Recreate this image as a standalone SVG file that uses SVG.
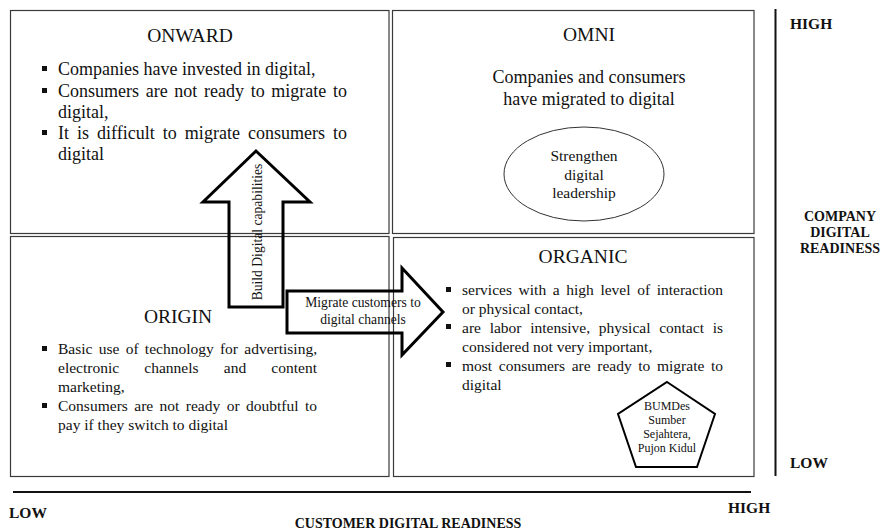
<svg xmlns="http://www.w3.org/2000/svg" width="881" height="530" viewBox="0 0 881 530">
  <style>
    .box { fill: #ffffff; stroke: #3a3a3a; stroke-width: 1.2; }
    .t { font-family: "Liberation Serif", "Times New Roman", serif; fill: #111; }
    .title { font-size: 19.5px; text-anchor: middle; }
    .body { font-size: 18px; }
    .small { font-size: 15.5px; }
    .axis { font-family: "Liberation Serif", "Times New Roman", serif; font-weight: bold; fill: #111; }
    .end { font-size: 15.5px; }
    .name { font-size: 14px; text-anchor: middle; }
    .bul { fill: #111; }
    .arrow { fill: none; stroke: #000; stroke-width: 3; stroke-linejoin: miter; }
    .lbl { font-family: "Liberation Serif", "Times New Roman", serif; font-size: 13.6px; fill: #111; text-anchor: middle; }
    .axisline { stroke: #111; stroke-width: 2; }
  </style>

  <!-- Quadrant: ONWARD -->
  <g id="onward">
    <rect class="box" x="10.5" y="10.5" width="378.5" height="223"/>
    <text class="t title" x="190" y="42">ONWARD</text>
    <rect class="bul" x="42" y="66" width="5" height="5"/>
    <text class="t body" x="58" y="75">Companies have invested in digital,</text>
    <rect class="bul" x="42" y="88" width="5" height="5"/>
    <text class="t body" x="58" y="97" word-spacing="2.2" textLength="289" lengthAdjust="spacing">Consumers are not ready to migrate to</text>
    <text class="t body" x="58" y="118">digital,</text>
    <rect class="bul" x="42" y="130" width="5" height="5"/>
    <text class="t body" x="58" y="139" word-spacing="3.5" textLength="289" lengthAdjust="spacing">It is difficult to migrate consumers to</text>
    <text class="t body" x="58" y="160">digital</text>
  </g>

  <!-- Quadrant: OMNI -->
  <g id="omni">
    <rect class="box" x="392.5" y="10.5" width="361.5" height="223"/>
    <text class="t title" x="589" y="41">OMNI</text>
    <text class="t body" x="589" y="83" text-anchor="middle">Companies and consumers</text>
    <text class="t body" x="589" y="105" text-anchor="middle">have migrated to digital</text>
  </g>

  <!-- Oval inside OMNI -->
  <g id="strengthen">
    <ellipse cx="584" cy="174" rx="80" ry="47" fill="none" stroke="#333" stroke-width="1"/>
    <text class="t" font-size="15.5" x="584" y="161" text-anchor="middle">Strengthen</text>
    <text class="t" font-size="15.5" x="584" y="180" text-anchor="middle">digital</text>
    <text class="t" font-size="15.5" x="584" y="198" text-anchor="middle">leadership</text>
  </g>

  <!-- Quadrant: ORIGIN -->
  <g id="origin">
    <rect class="box" x="10.5" y="236.5" width="378.5" height="240"/>
    <text class="t title" x="178" y="323">ORIGIN</text>
    <rect class="bul" x="42" y="346" width="5" height="5"/>
    <text class="t small" x="58" y="354" word-spacing="2.4" textLength="259" lengthAdjust="spacing">Basic use of technology for advertising,</text>
    <text class="t small" x="58" y="373" word-spacing="21.3" textLength="259" lengthAdjust="spacing">electronic channels and content</text>
    <text class="t small" x="58" y="392">marketing,</text>
    <rect class="bul" x="42" y="403" width="5" height="5"/>
    <text class="t small" x="58" y="411" word-spacing="2.5" textLength="259" lengthAdjust="spacing">Consumers are not ready or doubtful to</text>
    <text class="t small" x="58" y="430">pay if they switch to digital</text>
  </g>

  <!-- Quadrant: ORGANIC -->
  <g id="organic">
    <rect class="box" x="393.5" y="237.5" width="360.5" height="239"/>
    <text class="t title" x="583" y="263">ORGANIC</text>
    <rect class="bul" x="446" y="287" width="5" height="5"/>
    <text class="t small" x="462" y="295" word-spacing="2.75" textLength="261" lengthAdjust="spacing">services with a high level of interaction</text>
    <text class="t small" x="462" y="314">or physical contact,</text>
    <rect class="bul" x="446" y="324" width="5" height="5"/>
    <text class="t small" x="462" y="333" word-spacing="4.8" textLength="261" lengthAdjust="spacing">are labor intensive, physical contact is</text>
    <text class="t small" x="462" y="352">considered not very important,</text>
    <rect class="bul" x="446" y="362" width="5" height="5"/>
    <text class="t small" x="462" y="371" word-spacing="2.75" textLength="261" lengthAdjust="spacing">most consumers are ready to migrate to</text>
    <text class="t small" x="462" y="390">digital</text>
  </g>

  <!-- Pentagon inside ORGANIC -->
  <g id="bumdes">
    <polygon points="667,382 715,414 697,467 636,467 618,414" fill="none" stroke="#000" stroke-width="2"/>
    <text class="t" font-size="12" x="667" y="410" text-anchor="middle">BUMDes</text>
    <text class="t" font-size="12" x="667" y="424" text-anchor="middle">Sumber</text>
    <text class="t" font-size="12" x="667" y="438" text-anchor="middle">Sejahtera,</text>
    <text class="t" font-size="12" x="667" y="452" text-anchor="middle">Pujon Kidul</text>
  </g>

  <!-- Connectors: block arrows between quadrants -->
  <g id="connectors">
    <g id="build-arrow">
      <polygon class="arrow" points="256,151 310,202 283,202 283,307 229,307 229,202 203,202"/>
      <text class="lbl" transform="translate(262,232) rotate(-90)">Build Digital capabilities</text>
    </g>
    <g id="migrate-arrow">
      <polygon class="arrow" points="287,291 402,291 402,268 443,312 402,355 402,333 287,333"/>
      <text class="lbl" x="363" y="307">Migrate customers to</text>
      <text class="lbl" x="363" y="324">digital channels</text>
    </g>
  </g>

  <!-- Axes -->
  <g id="company-axis">
    <line class="axisline" x1="775.5" y1="9" x2="775.5" y2="476"/>
    <text class="axis end" x="790" y="29">HIGH</text>
    <text class="axis name" x="840" y="221">COMPANY</text>
    <text class="axis name" x="840" y="237">DIGITAL</text>
    <text class="axis name" x="840" y="253">READINESS</text>
    <text class="axis end" x="790" y="468">LOW</text>
  </g>
  <g id="customer-axis">
    <line class="axisline" x1="13" y1="492" x2="751" y2="492"/>
    <text class="axis end" x="9" y="518">LOW</text>
    <text class="axis end" x="728" y="513">HIGH</text>
    <text class="axis name" x="408" y="528">CUSTOMER DIGITAL READINESS</text>
  </g>
</svg>
